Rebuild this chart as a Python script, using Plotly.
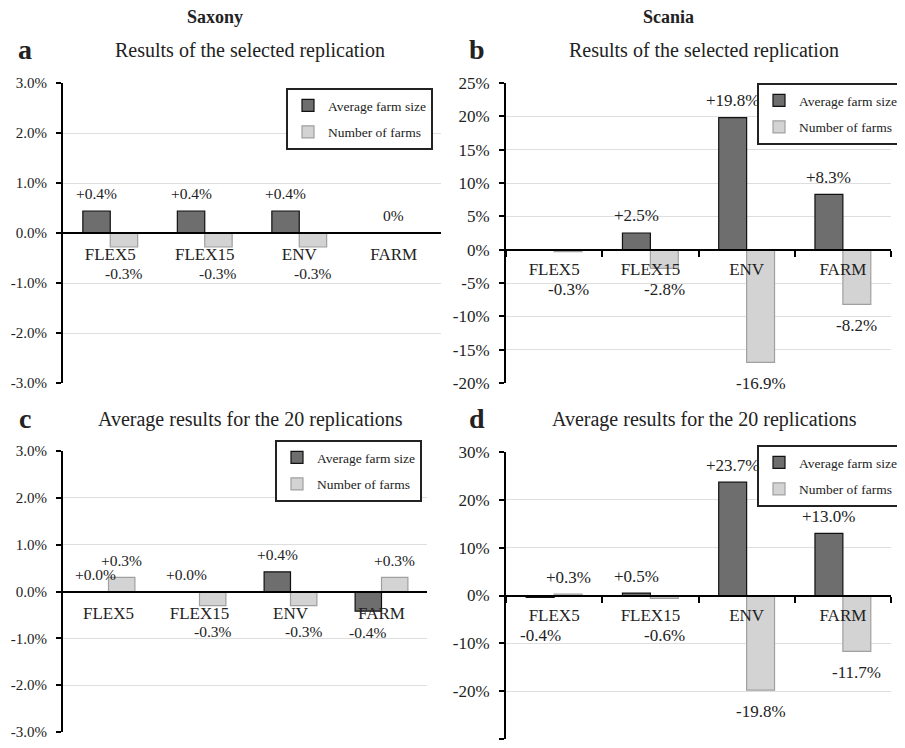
import plotly.graph_objects as go

categories = ["FLEX5", "FLEX15", "ENV", "FARM"]
series_names = ["Average farm size", "Number of farms"]

# Panel a: Saxony, selected replication
a_size = [0.44, 0.44, 0.44, 0.0]
a_farms = [-0.28, -0.28, -0.28, 0.0]
a_size_labels = ["+0.4%", "+0.4%", "+0.4%", "0%"]
a_farms_labels = ["-0.3%", "-0.3%", "-0.3%", ""]

# Panel b: Scania, selected replication
b_size = [0.0, 2.5, 19.8, 8.3]
b_farms = [-0.3, -2.8, -16.9, -8.2]
b_size_labels = ["", "+2.5%", "+19.8%", "+8.3%"]
b_farms_labels = ["-0.3%", "-2.8%", "-16.9%", "-8.2%"]

# Panel c: Saxony, average of 20 replications
c_size = [0.0, 0.0, 0.42, -0.42]
c_farms = [0.3, -0.3, -0.3, 0.3]
c_size_labels = ["+0.0%", "+0.0%", "+0.4%", "-0.4%"]
c_farms_labels = ["+0.3%", "-0.3%", "-0.3%", "+0.3%"]

# Panel d: Scania, average of 20 replications
d_size = [-0.4, 0.5, 23.7, 13.0]
d_farms = [0.3, -0.6, -19.8, -11.7]
d_size_labels = ["-0.4%", "+0.5%", "+23.7%", "+13.0%"]
d_farms_labels = ["+0.3%", "-0.6%", "-19.8%", "-11.7%"]

# Y tick values and labels
saxony_ticks = [-3, -2, -1, 0, 1, 2, 3]
saxony_tick_labels = ["-3.0%", "-2.0%", "-1.0%", "0.0%", "1.0%", "2.0%", "3.0%"]
scania_b_ticks = [-20, -15, -10, -5, 0, 5, 10, 15, 20, 25]
scania_b_tick_labels = ["-20%", "-15%", "-10%", "-5%", "0%", "5%", "10%", "15%", "20%", "25%"]
scania_d_ticks = [-30, -20, -10, 0, 10, 20, 30]
scania_d_tick_labels = ["-30%", "-20%", "-10%", "0%", "10%", "20%", "30%"]

# the page body has an 8px margin, so the figure is laid out in page pixels minus that offset
OFF = 8
W, H = 905 - OFF, 748 - OFF
FONT = "Liberation Serif"
TXT = "#222222"
DARK = "#6e6e6e"
LIGHT = "#d3d3d3"
BARGAP = 0.42

def px_x(p):
    return (p - OFF) / W

def px_y(p):
    return 1 - (p - OFF) / H

panels = [
    dict(size=a_size, farms=a_farms, sl=a_size_labels, fl=a_farms_labels,
         xd=(63, 441), yd=(83, 383), rng=(-3, 3), tv=saxony_ticks, tt=saxony_tick_labels,
         big=False, xt=False, leg=(433, 88)),
    dict(size=b_size, farms=b_farms, sl=b_size_labels, fl=b_farms_labels,
         xd=(506, 891), yd=(83, 383), rng=(-20, 25), tv=scania_b_ticks, tt=scania_b_tick_labels,
         big=True, xt=True, leg=(904, 83)),
    dict(size=c_size, farms=c_farms, sl=c_size_labels, fl=c_farms_labels,
         xd=(63, 427), yd=(451, 732), rng=(-3, 3), tv=saxony_ticks, tt=saxony_tick_labels,
         big=False, xt=False, leg=(422, 440)),
    dict(size=d_size, farms=d_farms, sl=d_size_labels, fl=d_farms_labels,
         xd=(506, 891), yd=(452, 739), rng=(-30, 30), tv=scania_d_ticks, tt=scania_d_tick_labels,
         big=True, xt=True, leg=(904, 445)),
]

fig = go.Figure()
annotations = []
layout = dict(
    width=W, height=H,
    margin=dict(l=0, r=0, t=0, b=0, autoexpand=False),
    paper_bgcolor="white", plot_bgcolor="white",
    barmode="group", bargap=BARGAP, bargroupgap=0,
    font=dict(family=FONT, color=TXT),
    showlegend=True,
)

for i, p in enumerate(panels):
    n = i + 1
    xa = "x" if n == 1 else f"x{n}"
    ya = "y" if n == 1 else f"y{n}"
    legname = "legend" if n == 1 else f"legend{n}"
    for j, (vals, color, lcolor) in enumerate([(p["size"], DARK, "#111111"), (p["farms"], LIGHT, "#a0a0a0")]):
        fig.add_trace(go.Bar(
            x=categories, y=vals, name=series_names[j],
            marker=dict(color=color, line=dict(color=lcolor, width=1.2)),
            xaxis=xa, yaxis=ya, legend=legname, legendgroup=f"g{n}{j}",
            showlegend=True,
        ))
    ydom = [px_y(p["yd"][1]), px_y(p["yd"][0])]
    r0, r1 = p["rng"]
    zero_pos = ydom[0] + (0 - r0) / (r1 - r0) * (ydom[1] - ydom[0])
    px_per_unit = (p["yd"][1] - p["yd"][0]) / (r1 - r0)
    tick_size = 17 if p["big"] else 15
    layout[f"xaxis{'' if n == 1 else n}"] = dict(
        domain=[px_x(p["xd"][0]), px_x(p["xd"][1])],
        anchor="free", position=zero_pos,
        type="category",
        showline=True, linecolor="black", linewidth=2,
        showgrid=False, zeroline=False,
        ticks="outside" if p["xt"] else "",
        tickson="boundaries", ticklen=6, tickcolor="black", tickwidth=1.5,
        ticklabelstandoff=4 if p["xt"] else 6,
        tickfont=dict(size=17, family=FONT, color=TXT),
        automargin=False, fixedrange=True,
    )
    layout[f"yaxis{'' if n == 1 else n}"] = dict(
        domain=ydom, anchor=xa, range=[r0, r1],
        tickmode="array", tickvals=p["tv"], ticktext=p["tt"],
        showline=True, linecolor="black", linewidth=2,
        showgrid=True, gridcolor="#dedede", gridwidth=1.2,
        zeroline=False,
        ticks="outside", ticklen=5, tickcolor="black", tickwidth=1.5,
        ticklabelstandoff=6,
        tickfont=dict(size=tick_size, family=FONT, color=TXT),
        automargin=False, fixedrange=True,
    )
    layout[legname] = dict(
        x=px_x(p["leg"][0]), y=px_y(p["leg"][1]), xanchor="right", yanchor="top",
        xref="paper", yref="paper",
        bgcolor="white", bordercolor="#222222", borderwidth=2,
        font=dict(size=13.5, family=FONT, color=TXT),
        traceorder="grouped", tracegroupgap=6, itemwidth=30,
    )
    off = (1 - BARGAP) / 4
    lbl_size = 17 if p["big"] else 15.5
    pairs = list(zip(p["size"], p["farms"]))
    for j, (vals, labels) in enumerate([(p["size"], p["sl"]), (p["farms"], p["fl"])]):
        dx = -off if j == 0 else off
        for k, (v, t) in enumerate(zip(vals, labels)):
            if not t:
                continue
            # a single label for a category where both bars are zero sits in the middle
            kx = k if pairs[k] == (0.0, 0.0) else k + dx
            if v >= 0:
                yv, ys = v, 17
            else:
                bar_px = -v * px_per_unit
                yv, ys = 0, -max(bar_px + 21, 40)
            annotations.append(dict(
                x=kx, y=yv, xref=xa, yref=ya, text=t, showarrow=False,
                xanchor="center", yanchor="middle", yshift=ys,
                font=dict(size=lbl_size, family=FONT, color=TXT),
            ))

def paper_text(txt, x, y, size):
    return dict(x=px_x(x), y=px_y(y), xref="paper", yref="paper", text=txt,
                showarrow=False, xanchor="center", yanchor="middle",
                font=dict(size=size, family=FONT, color=TXT))

for txt, x in [("Saxony", 215), ("Scania", 668)]:
    annotations.append(paper_text(f"<b>{txt}</b>", x, 17, 18))
for txt, x, y in [("a", 25, 50), ("b", 477, 50), ("c", 25, 418), ("d", 477, 418)]:
    annotations.append(paper_text(f"<b>{txt}</b>", x, y, 28))
for txt, x, y in [("Results of the selected replication", 250, 51),
                  ("Results of the selected replication", 704, 51),
                  ("Average results for the 20 replications", 250, 419),
                  ("Average results for the 20 replications", 704, 419)]:
    annotations.append(paper_text(txt, x, y, 20))

layout["annotations"] = annotations
fig.update_layout(**layout)
fig.write_html("out.html")
